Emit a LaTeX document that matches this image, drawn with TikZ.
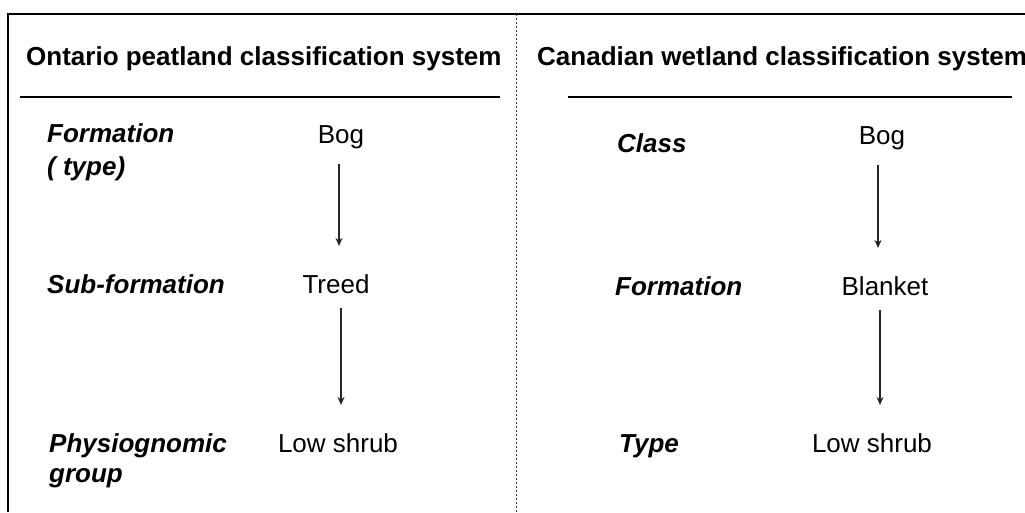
\documentclass[tikz,border=0pt]{standalone}
\usepackage{fontspec}
\setmainfont{Liberation Sans}
\usepackage{tikz}
\usetikzlibrary{arrows.meta, positioning}

\tikzset{
	level/.style={anchor=base west, inner sep=0pt, align=left, font=\fontsize{26}{31}\selectfont\bfseries\itshape},
	value/.style={anchor=base, inner sep=0pt, font=\fontsize{26}{31}\selectfont},
	title/.style={anchor=base west, inner sep=0pt, font=\fontsize{26}{31}\selectfont\bfseries},
	flow/.style={-{Stealth[length=8pt, width=7pt]}, line width=1.4pt, draw=black!85, shorten <=15pt, shorten >=28pt}
}

\begin{document}
\begin{tikzpicture}[x=1pt, y=-1pt]
				\useasboundingbox (0, 0) rectangle (1025, 512);

				% frame
				\coordinate (TopL) at (8, 14);
				\coordinate (TopR) at (1025, 14);
				\coordinate (BotL) at (8, 512);
				\draw[line width=2pt] (BotL) -- (TopL) -- (TopR);
				\coordinate (MidTop) at (516, 14);
				\coordinate (MidBot) at (516, 512);
				\draw[line width=1pt, draw=black!80, dash pattern=on 2pt off 2pt] (MidTop) -- (MidBot);

				% Ontario side
				\node (OntTitle) [title] at (26, 65) {Ontario peatland classification system};
				\coordinate (OntRuleA) at (20, 97);
				\coordinate (OntRuleB) at (500, 97);
				\draw[line width=1.5pt] (OntRuleA) -- (OntRuleB);

				\node (OntFormation) [level, font=\fontsize{26}{33}\selectfont\bfseries\itshape] at (47, 175) {Formation\\( type)};
				\node (OntSub) [level] at (47, 293) {Sub-formation};
				\node (OntPhysio) [level, font=\fontsize{26}{30}\selectfont\bfseries\itshape] at (49, 482) {Physiognomic\\group};

				\coordinate (OntCol) at (339, 0);
				\node (OntBog) [value] at (341, 143) {Bog};
				\node (OntTreed) [value] at (336, 293) {Treed};
				\node (OntShrub) [value] at (338, 452) {Low shrub};
				\draw[flow] (OntBog.south -| OntCol) -- (OntTreed.north -| OntCol);
				\draw[flow] ([xshift=2pt]OntTreed.south -| OntCol) -- ([xshift=2pt]OntShrub.north -| OntCol);

				% Canadian side
				\node (CanTitle) [title] at (537, 65) {Canadian wetland classification system};
				\coordinate (CanRuleA) at (568, 97);
				\coordinate (CanRuleB) at (1012, 97);
				\draw[line width=1.5pt] (CanRuleA) -- (CanRuleB);

				\node (CanClass) [level] at (617, 152) {Class};
				\node (CanFormation) [level] at (615, 295) {Formation};
				\node (CanType) [level] at (619, 452) {Type};

				\coordinate (CanCol) at (878, 0);
				\node (CanBog) [value] at (882, 144) {Bog};
				\node (CanBlanket) [value] at (885, 295) {Blanket};
				\node (CanShrub) [value] at (872, 452) {Low shrub};
				\draw[flow] (CanBog.south -| CanCol) -- (CanBlanket.north -| CanCol);
				\draw[flow] ([xshift=2pt]CanBlanket.south -| CanCol) -- ([xshift=2pt]CanShrub.north -| CanCol);
			\end{tikzpicture}
\end{document}
